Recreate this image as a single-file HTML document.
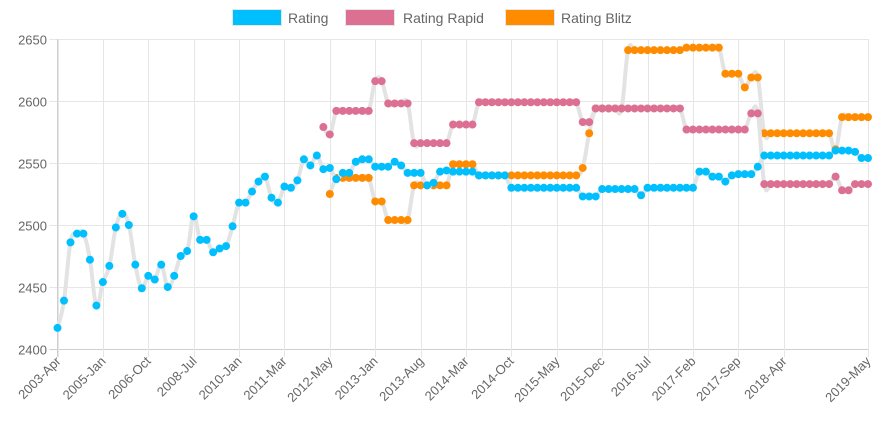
<!DOCTYPE html>
<html><head><meta charset="utf-8">
<style>
html,body{margin:0;padding:0;background:#fff;}
svg{display:block;font-family:"Liberation Sans",Arial,sans-serif;}
</style></head>
<body>
<svg id="chart" width="887" height="435" viewBox="0 0 887 435" xmlns="http://www.w3.org/2000/svg">
  <g id="legend">
    <g>
      <rect x="232.5" y="9.5" width="49" height="16" fill="#00bfff" stroke="#e6e6e6" stroke-width="1"/>
      <text x="288" y="23" font-size="14" fill="#666">Rating</text>
    </g>
    <g>
      <rect x="345.5" y="9.5" width="49" height="16" fill="#db7093" stroke="#e6e6e6" stroke-width="1"/>
      <text x="403" y="23" font-size="14" fill="#666">Rating Rapid</text>
    </g>
    <g>
      <rect x="505.5" y="9.5" width="49" height="16" fill="#ff8c00" stroke="#e6e6e6" stroke-width="1"/>
      <text x="561" y="23" font-size="14" fill="#666">Rating Blitz</text>
    </g>
  </g>
  <g id="grid"></g>
  <g id="yaxis"></g>
  <g id="xaxis"></g>
  <g id="series"></g>
</svg>
<script>
function rep(v,n){return Array(n).fill(v);}
const categories = (function(){
  const out=[];const M=["Jan","Feb","Mar","Apr","May","Jun","Jul","Aug","Sep","Oct","Nov","Dec"];
  let y=2003,m=3;
  while(!(y===2009&&m===6)){out.push(y+"-"+M[m]);m+=3;if(m>11){m-=12;y++;}}
  while(!(y===2012&&m===6)){out.push(y+"-"+M[m]);m+=2;if(m>11){m-=12;y++;}}
  while(out.length<126){out.push(y+"-"+M[m]);m+=1;if(m>11){m-=12;y++;}}
  return out;
})();
const ratingValues = [2417,2439,2486,2493,2493,2472,2435,2454,2467,2498,2509,2500,2468,2449,2459,2456,2468,2450,2459,2475,2479,2507,2488,2488,2478,2481,2483,2499,2518,2518,
 2527,2535,2539,2522,2518,2531,2530,2536,2553,2548,2556,2545,2546,2537,2542,2542,2551,2553,2553,2547,2547,2547,2551,2548,2542,2542,2542,2532,2534,2543,
 2544,2543,2543,2543,2543].concat(rep(2540,5),rep(2530,11),rep(2523,3),rep(2529,6),[2524],rep(2530,8),[2543,2543,2539,2539,2535,2540,2541,2541,2541,2547],rep(2556,11),[2560,2560,2560,2559,2554,2554]);
const rapidValues = rep(null,41).concat([2579,2573],rep(2592,6),[2616,2616],rep(2598,4),rep(2566,6),rep(2581,4),rep(2599,16),[2583,2583],rep(2594,14),rep(2577,10),[2590,2590],rep(2533,11),[2539,2528,2528,2533,2533,2533]);
const blitzValues = rep(null,42).concat([2525],rep(2538,6),[2519,2519],rep(2504,4),rep(2532,6),rep(2549,4),rep(2540,16),[2546,2574],rep(2594,5),rep(2641,9),rep(2643,6),[2622,2622,2622,2611,2619,2619],rep(2574,11),[2561],rep(2587,5));
const yTicks = [2400,2450,2500,2550,2600,2650];
const xTickIndices = [0,7,14,21,28,35,42,49,56,63,70,77,84,91,98,105,112,125];

const NS="http://www.w3.org/2000/svg";
const L=57.5,R=868,T=39,B=349,YMIN=2400,YMAX=2650;
function xs(i){return L+i*(R-L)/(categories.length-1);}
function ys(v){return B-(v-YMIN)*(B-T)/(YMAX-YMIN);}
function mk(tag,attrs,parent){const e=document.createElementNS(NS,tag);for(const k in attrs)e.setAttribute(k,attrs[k]);parent.appendChild(e);return e;}
const grid=document.getElementById('grid'),yax=document.getElementById('yaxis'),xax=document.getElementById('xaxis'),ser=document.getElementById('series');

yTicks.forEach(t=>{
  const y=Math.round(ys(t))+0.5;
  const gl=mk('line',{x1:L-8,x2:R,y1:y,y2:y,stroke:t===YMIN?'#cfcfcf':'#e6e6e6','stroke-width':1},grid);
  
  
  const tx=mk('text',{x:47,y:y+5,'text-anchor':'end','font-size':13,fill:'#666'},yax);
  tx.textContent=t;
  
  
});
mk('line',{x1:L,x2:L,y1:T,y2:B+8,stroke:'#cfcfcf','stroke-width':1},grid);
xTickIndices.forEach(i=>{
  const x=Math.round(xs(i))+0.5;
  const gl=mk('line',{x1:x,x2:x,y1:T,y2:B+8,stroke:'#e6e6e6','stroke-width':1},grid);
  
  
  const tx=mk('text',{x:x+3,y:B+13,'text-anchor':'end','font-size':13,fill:'#666',transform:'rotate(-45 '+(x+3)+' '+(B+13)+')'},xax);
  tx.textContent=categories[i];
  
  
});

function pathFor(vals){
  const pts=[];vals.forEach((v,i)=>{if(v!==null)pts.push([xs(i),ys(v)]);});
  let d='M'+pts[0][0]+','+pts[0][1];
  const t=0.4;
  for(let k=0;k<pts.length-1;k++){
    const p0=pts[Math.max(0,k-1)],p1=pts[k],p2=pts[k+1],p3=pts[Math.min(pts.length-1,k+2)];
    const c1x=p1[0]+(p2[0]-p0[0])*t/2,c1y=p1[1]+(p2[1]-p0[1])*t/2;
    const c2x=p2[0]-(p3[0]-p1[0])*t/2,c2y=p2[1]-(p3[1]-p1[1])*t/2;
    d+=' C'+c1x+','+c1y+' '+c2x+','+c2y+' '+p2[0]+','+p2[1];
  }
  return d;
}
function drawSeries(vals,color,name){
  const g=mk('g',{},ser);
  
  
  const p=mk('path',{d:pathFor(vals),fill:'none',stroke:'#e3e3e3','stroke-width':4,'stroke-linejoin':'round'},g);
  
  
  vals.forEach((v,i)=>{
    if(v===null)return;
    const c=mk('circle',{cx:xs(i),cy:ys(v),r:4,fill:color},g);
    
    
  });
}
drawSeries(blitzValues,'#ff8c00','rating-blitz-series');
drawSeries(rapidValues,'#db7093','rating-rapid-series');
drawSeries(ratingValues,'#00bfff','rating-series');
</script>
</body></html>
